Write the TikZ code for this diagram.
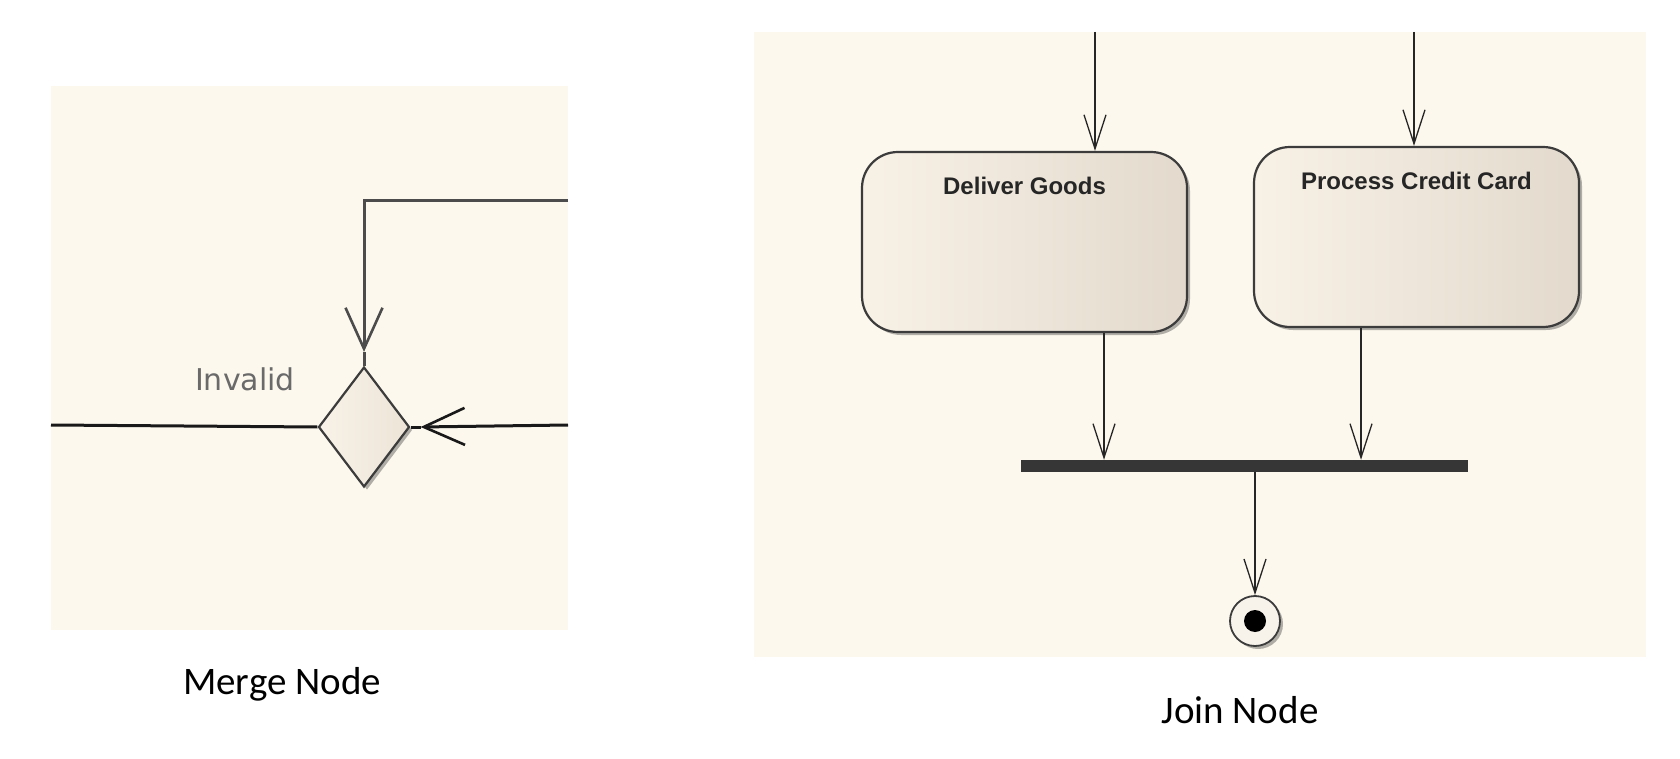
\documentclass[tikz,border=0pt]{standalone}
\usepackage{fontspec}
\setmainfont{Carlito}
\newfontfamily\boxfont{Liberation Sans}
\newfontfamily\lblfont{DejaVu Sans}
\usetikzlibrary{arrows.meta,shapes.geometric,shadows,calc}
\definecolor{panelbg}{HTML}{FCF8EE}
\definecolor{boxl}{HTML}{F8F1E6}
\definecolor{boxr}{HTML}{E3DACD}
\definecolor{diaml}{HTML}{F8F2E8}
\definecolor{diamr}{HTML}{EDE4D7}
\definecolor{edgec}{HTML}{3C3C3C}
\definecolor{barc}{HTML}{363636}
\definecolor{finfill}{HTML}{F7F3EB}
\definecolor{lblc}{HTML}{6A6A6A}
\begin{document}
\begin{tikzpicture}[x=1pt,y=-1pt,
  panel/.style={fill=panelbg,draw=none},
  shad/.style={drop shadow={shadow xshift=3pt,shadow yshift=-3pt,opacity=0.3,fill=black}},
  actbox/.style={draw=edgec,line width=2.2pt,rounded corners=36pt,minimum width=325pt,minimum height=180pt,inner sep=0pt,left color=boxl,right color=boxr,shad},
  boxtext/.style={font=\boxfont\bfseries\fontsize{24}{28}\selectfont,text=black!85,inner sep=0pt},
  mergenode/.style={diamond,draw=edgec,line width=2.2pt,minimum width=91pt,minimum height=120pt,inner sep=0pt,left color=diaml,right color=diamr,shad},
  joinbar/.style={rectangle,fill=barc,draw=none,minimum width=447pt,minimum height=12pt,inner sep=0pt},
  finout/.style={circle,draw=edgec,line width=1.8pt,fill=finfill,minimum size=50pt,inner sep=0pt,shad},
  findot/.style={circle,fill=black,minimum size=22pt,inner sep=0pt},
  jarr/.style={draw=black!85,line width=1.3pt,-{Straight Barb[length=34pt,width=22pt,line width=1.3pt]}},
  mline/.style={draw=black!90,line width=3pt},
  mtop/.style={draw=black!70,line width=3pt},
  marr/.style={-{Straight Barb[length=41pt,width=37pt,line width=2.6pt]}},
  caption/.style={font=\fontsize{39}{44}\selectfont,anchor=base,inner sep=0pt},
  invl/.style={font=\lblfont\fontsize{30}{34}\selectfont,text=lblc,inner sep=0pt}
]
\useasboundingbox (0,0) rectangle (1680,759);
% panels
\fill[panel] (51,86) rectangle (568,630);
\fill[panel] (754,32) rectangle (1646,657);

% ---------- Merge node ----------
\node[mergenode] (m) at (364,427) {};
\node[invl] (inv) at (245,379) {Invalid};
\coordinate (mtr) at (568,201);
\coordinate (mr) at (568,425);
\coordinate (ml) at (51,425);
\coordinate (mtip) at ([yshift=14pt]m.north);
\coordinate (mrtip) at ([xshift=10pt]m.east);
\draw[mtop,marr] (mtr) -- (mtr -| m.north) -- (mtip);
\draw[mtop] (mtip) -- (m.north);
\draw[mline,marr] (mr) -- (mrtip);
\draw[mline] (mrtip) -- (m.east);
\draw[mline] (ml) -- (m.west);
\node[caption] (cap1) at (282,694) {Merge Node};

% ---------- Join node ----------
\node[actbox,label={[boxtext,anchor=center,yshift=-35pt]north:Deliver Goods}] (dg) at (1024.5,242) {};
\node[actbox,label={[boxtext,anchor=center,yshift=-35pt]north:Process Credit Card}] (pc) at (1416.5,237) {};
\node[joinbar] (bar) at (1244.5,466) {};
\node[finout] (fin) at (1255,621) {};
\node[findot] (fdot) at (fin) {};
\coordinate (t1) at (1095,32);
\coordinate (t2) at (1414,32);
\coordinate (o1) at (1104,0);
\coordinate (o2) at (1361,0);
\draw[jarr] (t1) -- (t1 |- dg.north);
\draw[jarr] (t2) -- (t2 |- pc.north);
\draw[jarr] (o1 |- dg.south) -- (o1 |- bar.north);
\draw[jarr] (o2 |- pc.south) -- (o2 |- bar.north);
\draw[jarr] (fin |- bar.south) -- (fin.north);
\node[caption] (cap2) at (1240,723) {Join Node};
\end{tikzpicture}
\end{document}
